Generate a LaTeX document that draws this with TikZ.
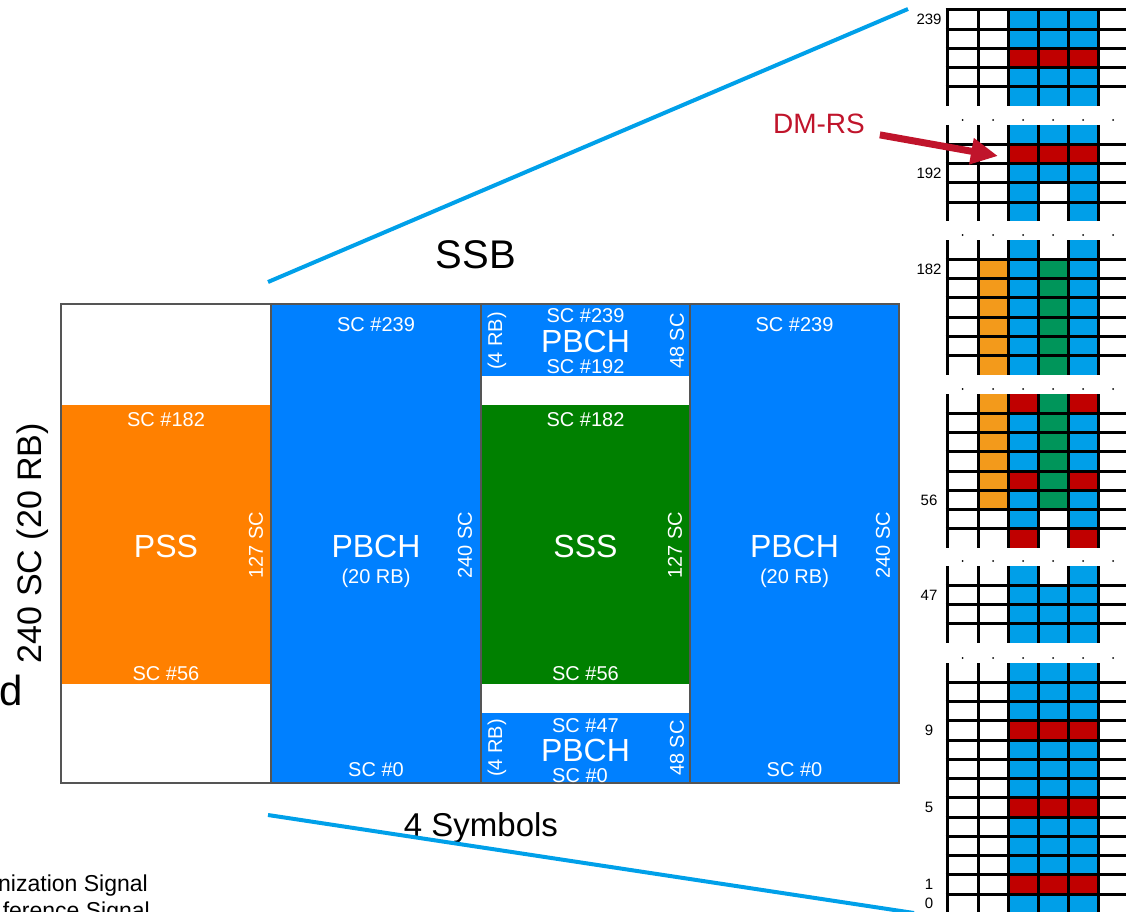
\documentclass[tikz,border=0pt]{standalone}
\usepackage{fontspec}
\setmainfont{Liberation Sans}
\usetikzlibrary{arrows.meta}
\definecolor{ssbblue}{HTML}{0080FF}
\definecolor{ssborange}{HTML}{FF8000}
\definecolor{ssbgreen}{HTML}{008000}
\definecolor{ssbframe}{HTML}{555555}
\definecolor{reblue}{HTML}{009FE8}
\definecolor{reorange}{HTML}{F39A1B}
\definecolor{regreen}{HTML}{00955A}
\definecolor{rered}{HTML}{C00000}
\definecolor{dmrsred}{HTML}{C0142B}
\definecolor{zoomblue}{HTML}{00A0E9}
\tikzset{region/.style={inner sep=0pt,outer sep=0pt,anchor=north west},
  sclabel/.style={text=white,font=\fontsize{20}{20}\selectfont,inner sep=0pt,anchor=base},
  chlabel/.style={text=white,font=\fontsize{32}{32}\selectfont,inner sep=0pt,anchor=base},
  sidelabel/.style={text=white,font=\fontsize{20}{20}\selectfont,inner sep=0pt,rotate=90},
  rowlabel/.style={font=\fontsize{15}{15}\selectfont,inner sep=0pt},
  gridrule/.style={line width=3pt,draw=black},
  zoomline/.style={draw=zoomblue,line width=4pt},
  dmrsarrow/.style={-{Triangle[length=27pt,width=25pt]},line width=7pt,draw=dmrsred}}
\def\rowh{19.25}
% one row of the resource grid, colours of columns 1-4
\newcommand{\rerow}[5]{%
  \foreach \cellcol [count=\k from 0] in {#2,#3,#4,#5}
    \fill[\cellcol] ({978+30*\k},{#1}) rectangle ++(30,\rowh);}
% rules of one grid piece: top, rows, rows-1
\newcommand{\reframe}[3]{%
  \foreach \gx in {947,978,1008,1038,1068,1098}
    \draw[gridrule] (\gx,{#1}) -- ++(0,{#2*\rowh});
  \foreach \gr in {1,...,#3}
    \draw[gridrule] (945.5,{#1+\gr*\rowh}) -- (1130,{#1+\gr*\rowh});}

\begin{document}
\begin{tikzpicture}[x=1pt,y=-1pt]
\useasboundingbox (0,0) rectangle (1126,912);
% SSB block
\node[region,fill=ssborange,minimum width=210pt,minimum height=279pt] (pss) at (61,405) {};
\node[region,fill=ssbblue,minimum width=210pt,minimum height=479pt] (pbchleft) at (271,304) {};
\node[region,fill=ssbblue,minimum width=209pt,minimum height=72pt] (pbchtop) at (481,304) {};
\node[region,fill=ssbgreen,minimum width=209pt,minimum height=279pt] (sss) at (481,405) {};
\node[region,fill=ssbblue,minimum width=209pt,minimum height=70pt] (pbchbot) at (481,713) {};
\node[region,fill=ssbblue,minimum width=209pt,minimum height=479pt] (pbchright) at (690,304) {};
\draw[ssbframe,line width=2.5pt] (61,304) rectangle (899,783);
\foreach \sx in {271,481,690}
  \draw[ssbframe,line width=2.5pt] (\sx,304) -- (\sx,783);
% column 1
\node[sclabel] (pssup) at (166,426) {SC \#182};
\node[chlabel] (psstext) at (166,557) {PSS};
\node[sclabel] (psslow) at (166,680) {SC \#56};
\node[sidelabel] (psssize) at (256,545) {127 SC};
% column 2
\node[sclabel] (leftup) at (376,331) {SC \#239};
\node[chlabel] (lefttext) at (376,557) {PBCH};
\node[sclabel] (leftrb) at (376,583) {(20 RB)};
\node[sidelabel] (leftsize) at (465,545) {240 SC};
\node[sclabel] (leftlow) at (376,776) {SC \#0};
% column 3
\node[sclabel] (topup) at (585.5,322) {SC \#239};
\node[chlabel] (toptext) at (585.5,352) {PBCH};
\node[sclabel] (toplow) at (585.5,373) {SC \#192};
\node[sidelabel] (toprb) at (497,341) {(4 RB)};
\node[sidelabel] (topsize) at (677,341) {48 SC};
\node[sclabel] (sssup) at (585.5,426) {SC \#182};
\node[chlabel] (ssstext) at (585.5,557) {SSS};
\node[sidelabel] (ssssize) at (675,545) {127 SC};
\node[sclabel] (ssslow) at (585.5,680) {SC \#56};
\node[sclabel] (botup) at (585.5,732) {SC \#47};
\node[chlabel] (bottext) at (585.5,761) {PBCH};
\node[sclabel] (botlow) at (580,782) {SC \#0};
\node[sidelabel] (botrb) at (497,748) {(4 RB)};
\node[sidelabel] (botsize) at (677,748) {48 SC};
% column 4
\node[sclabel] (rightup) at (794.5,331) {SC \#239};
\node[chlabel] (righttext) at (794.5,557) {PBCH};
\node[sclabel] (rightrb) at (794.5,583) {(20 RB)};
\node[sidelabel] (rightsize) at (883,545) {240 SC};
\node[sclabel] (rightlow) at (794.5,776) {SC \#0};
% captions
\node[font=\fontsize{40}{40}\selectfont,inner sep=0pt,anchor=base] (ssb) at (476,268) {SSB};
\node[font=\fontsize{33}{33}\selectfont,inner sep=0pt,anchor=base] (symbols) at (481,836) {4 Symbols};
\node[font=\fontsize{34}{34}\selectfont,inner sep=0pt,rotate=90] (bandw) at (33,543) {240 SC (20 RB)};
\node[font=\fontsize{42}{42}\selectfont,inner sep=0pt,anchor=base east] (cutd) at (23,705) {d};
\node[font=\fontsize{23}{23}\selectfont,inner sep=0pt,anchor=base east] (legsync) at (148,891) {nization Signal};
\node[font=\fontsize{23}{23}\selectfont,inner sep=0pt,anchor=base east] (legref) at (150,918) {ference Signal};
% zoom lines
\coordinate (ssbtop) at (268,282);
\coordinate (gridtop) at (908,9);
\coordinate (ssbbot) at (268,815);
\coordinate (gridbot) at (914,913);
\draw[zoomline] (ssbtop) -- (gridtop);
\draw[zoomline] (ssbbot) -- (gridbot);
% resource grid pieces
\foreach \qa/\qb/\qc/\qd [count=\r from 0] in {white/reblue/reblue/reblue,white/reblue/reblue/reblue,white/rered/rered/rered,white/reblue/reblue/reblue,white/reblue/reblue/reblue}
  {\rerow{10+\r*\rowh}{\qa}{\qb}{\qc}{\qd}}
\foreach \qa/\qb/\qc/\qd [count=\r from 0] in {white/reblue/reblue/reblue,white/rered/rered/rered,white/reblue/reblue/reblue,white/reblue/white/reblue,white/reblue/white/reblue}
  {\rerow{125+\r*\rowh}{\qa}{\qb}{\qc}{\qd}}
\foreach \qa/\qb/\qc/\qd [count=\r from 0] in {white/reblue/white/reblue,reorange/reblue/regreen/reblue,reorange/reblue/regreen/reblue,reorange/reblue/regreen/reblue,reorange/reblue/regreen/reblue,reorange/reblue/regreen/reblue,reorange/reblue/regreen/reblue}
  {\rerow{240+\r*\rowh}{\qa}{\qb}{\qc}{\qd}}
\foreach \qa/\qb/\qc/\qd [count=\r from 0] in {reorange/rered/regreen/rered,reorange/reblue/regreen/reblue,reorange/reblue/regreen/reblue,reorange/reblue/regreen/reblue,reorange/rered/regreen/rered,reorange/reblue/regreen/reblue,white/reblue/white/reblue,white/rered/white/rered}
  {\rerow{394+\r*\rowh}{\qa}{\qb}{\qc}{\qd}}
\foreach \qa/\qb/\qc/\qd [count=\r from 0] in {white/reblue/white/reblue,white/reblue/reblue/reblue,white/reblue/reblue/reblue,white/reblue/reblue/reblue}
  {\rerow{566+\r*\rowh}{\qa}{\qb}{\qc}{\qd}}
\foreach \qb [count=\r from 0] in {reblue,reblue,reblue,rered,reblue,reblue,reblue,rered,reblue,reblue,reblue,rered,reblue}
  {\rerow{663+\r*\rowh}{white}{\qb}{\qb}{\qb}}
\draw[gridrule] (945.5,10) -- (1130,10);
\reframe{10}{5}{4}
\reframe{125}{5}{4}
\reframe{240}{7}{6}
\reframe{394}{8}{7}
\reframe{566}{4}{3}
\reframe{663}{13}{12}
\foreach \gt in {125,240,394,566,663}
  \foreach \gx in {962.5,993,1023,1053,1083,1113}
    \fill (\gx,\gt-5) circle (1pt);
% subcarrier numbers
\node[rowlabel] (n239) at (929,19.6) {239};
\node[rowlabel] (n192) at (929,173.1) {192};
\node[rowlabel] (n182) at (929,268.9) {182};
\node[rowlabel] (n56) at (929,499.9) {56};
\node[rowlabel] (n47) at (929,594.9) {47};
\node[rowlabel] (n9) at (929,730.4) {9};
\node[rowlabel] (n5) at (929,807.4) {5};
\node[rowlabel] (n1) at (929,884.4) {1};
\node[rowlabel] (n0) at (929,903.6) {0};
% DM-RS marker
\node[font=\fontsize{28}{28}\selectfont,text=dmrsred,inner sep=0pt] (dmrs) at (819,124) {DM-RS};
\coordinate (dmrstip) at (998,156);
\draw[dmrsarrow,shorten <=15pt] (dmrs) -- (dmrstip);
\end{tikzpicture}
\end{document}
